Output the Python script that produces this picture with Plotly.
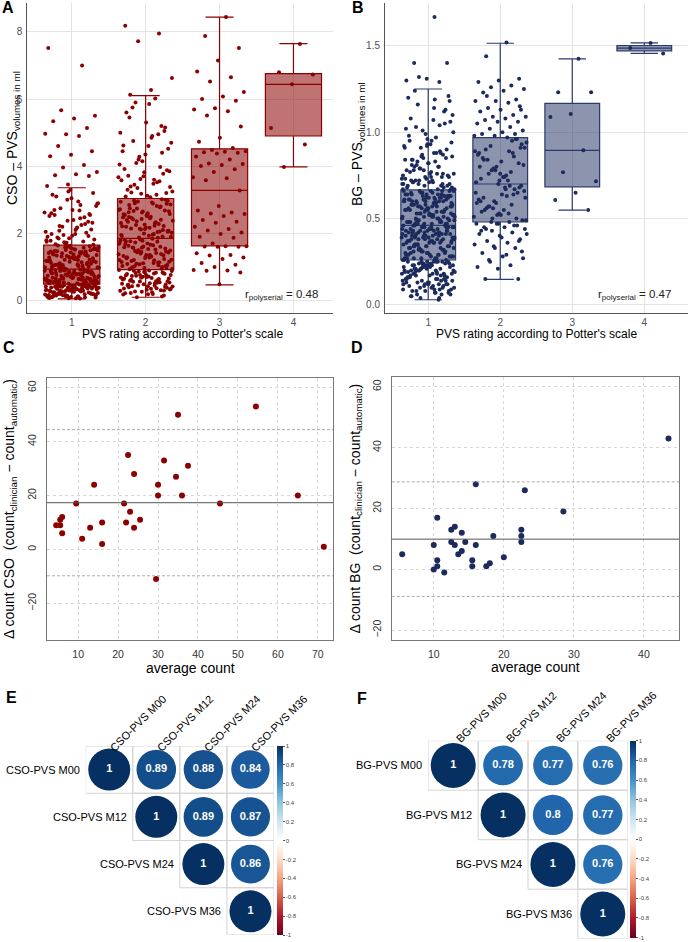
import numpy as np
import plotly.graph_objects as go

W, H = 689, 942
FONT = "Liberation Sans, Arial, sans-serif"


def px(x):
    return x / W


def py(y):
    return 1 - y / H


# ---------------- data: panel A (CSO volumes by Potter rating) ----------------
categories = [1, 2, 3, 4]
cat_labels = ["1", "2", "3", "4"]

cso_g1 = [0.12, 0.35, 0.21, 0.44, 0.08, 0.29, 0.41, 0.17, 0.38, 0.25, 0.47, 0.14, 0.32, 0.06, 0.43, 0.19, 0.27, 0.39, 0.10, 0.46,
          0.23, 0.34, 0.15, 0.42, 0.30, 0.09, 0.37, 0.20, 0.45, 0.26, 0.13, 0.40, 0.31, 0.18, 0.48, 0.22, 0.36, 0.11, 0.28, 0.44,
          0.16, 0.33, 0.07, 0.41, 0.24, 0.39, 0.14, 0.47, 0.30, 0.19, 0.35, 0.10, 0.43, 0.26, 0.38, 0.12, 0.46, 0.21, 0.33, 0.17,
          0.40, 0.28, 0.09, 0.45, 0.23, 0.36, 0.15, 0.42, 0.31, 0.20,
          0.52, 0.71, 0.88, 0.60, 0.93, 0.55, 0.79, 0.66, 0.84, 0.50, 0.74, 0.62, 0.91, 0.57, 0.82, 0.68, 0.53, 0.77, 0.89, 0.64,
          0.58, 0.85, 0.72, 0.51, 0.94, 0.69, 0.61, 0.80, 0.56, 0.87, 0.75, 0.63, 0.92, 0.54, 0.78, 0.67, 0.83, 0.59, 0.90, 0.70,
          0.52, 0.76, 0.65, 0.86, 0.57, 0.81, 0.73, 0.60, 0.89, 0.55, 0.68, 0.93, 0.62, 0.79, 0.50, 0.84, 0.71, 0.58, 0.87, 0.66,
          0.53, 0.77, 0.91, 0.64, 0.82, 0.56, 0.74, 0.88, 0.61, 0.69,
          1.02, 1.35, 1.58, 0.98, 1.21, 1.47, 1.10, 1.63, 1.28, 0.96, 1.41, 1.15, 1.52, 1.05, 1.33, 1.60, 1.19, 1.44, 1.00, 1.26,
          1.55, 1.12, 1.38, 0.97, 1.49, 1.23, 1.07, 1.62, 1.30, 1.17, 1.45, 1.03, 1.56, 1.25, 1.39, 1.09, 1.51, 0.99, 1.32, 1.64,
          1.14, 1.43, 1.20, 1.57, 1.06, 1.36, 1.27, 1.48, 1.01, 1.61, 1.18, 1.40, 1.11, 1.53, 1.29, 0.95, 1.46, 1.22, 1.59, 1.08,
          1.34, 1.50, 1.16, 1.42, 1.04, 1.31, 1.54, 1.24, 1.37, 1.13,
          1.72, 2.05, 2.68, 1.85, 2.32, 3.05, 1.78, 2.48, 1.95, 2.88, 2.15, 1.68, 2.58, 3.25, 1.90, 2.25, 2.75, 1.82, 2.40, 3.15,
          2.02, 1.70, 2.62, 2.95, 1.88, 2.12, 3.30, 2.52, 1.76, 2.20, 2.82, 1.98, 2.70, 2.35, 3.00, 1.80, 2.45, 2.08, 3.20, 1.93,
          2.60, 2.28, 1.74, 2.90, 2.18, 3.10, 2.55, 1.86,
          7.52, 7.00, 5.67, 5.50, 5.42, 5.34, 5.14, 4.95, 4.97, 4.90, 4.60, 4.45, 4.34, 4.30, 4.04, 3.96, 3.83, 3.76, 3.73, 3.71,
          3.46, 3.41,
          0.27, 0.62, 1.18, 0.44, 0.81, 1.41, 0.16, 0.73, 1.05, 0.36, 0.58, 1.27, 0.11, 0.69, 0.92, 0.48, 1.52, 0.22, 0.86, 1.33,
          0.31, 0.64, 1.09, 0.40, 0.77, 1.46, 0.19, 0.55, 0.99, 0.34, 0.83, 1.22, 0.07, 0.60, 1.14, 0.42, 0.71, 1.37, 0.25, 0.90,
          0.13, 0.66, 1.02, 0.47, 0.79, 1.58, 0.29, 0.52, 0.96, 0.38, 2.10, 2.55, 1.92, 2.38, 1.75, 2.85, 2.22, 1.66, 2.70, 1.98]

cso_g2 = [0.25, 0.62, 0.41, 0.85, 0.18, 0.53, 0.74, 0.33, 0.90, 0.47, 0.12, 0.68, 0.29, 0.81, 0.56, 0.38, 0.77, 0.22, 0.64, 0.45,
          0.88, 0.35, 0.59, 0.15, 0.71, 0.50, 0.83, 0.27, 0.66, 0.43, 0.79, 0.31, 0.57, 0.91, 0.20, 0.73, 0.48, 0.86, 0.36, 0.61,
          0.10, 0.76, 0.52, 0.40, 0.84, 0.26, 0.69, 0.44, 0.89, 0.58, 0.32, 0.75, 0.55, 0.87, 0.42, 0.67, 0.23, 0.80, 0.49, 0.63,
          0.37, 0.82, 0.54, 0.72, 0.46,
          0.95, 1.40, 1.72, 1.12, 1.58, 0.98, 1.30, 1.81, 1.05, 1.47, 1.22, 1.66, 0.93, 1.35, 1.78, 1.15, 1.52, 1.02, 1.43, 1.70,
          1.26, 1.60, 1.08, 1.38, 1.84, 1.18, 1.55, 0.97, 1.33, 1.75, 1.10, 1.49, 1.28, 1.63, 1.00, 1.45, 1.80, 1.20, 1.57, 1.06,
          1.36, 1.68, 1.14, 1.50, 0.94, 1.31, 1.77, 1.24, 1.61, 1.03, 1.42, 1.73, 1.16, 1.54, 1.09, 1.39, 1.82, 1.21, 1.65, 0.99,
          1.46, 1.27, 1.59, 1.13, 1.44,
          1.90, 2.45, 2.85, 2.10, 2.62, 1.95, 2.30, 2.98, 2.05, 2.52, 2.20, 2.78, 1.88, 2.38, 2.92, 2.15, 2.68, 2.00, 2.48, 2.82,
          2.25, 2.58, 1.93, 2.35, 3.02, 2.12, 2.72, 1.98, 2.42, 2.88, 2.18, 2.55, 2.28, 2.95, 2.02, 2.50, 2.75, 2.22, 2.65, 1.92,
          2.33, 2.90, 2.08, 2.60, 2.40, 2.80, 2.14, 2.70, 1.96, 2.46, 3.00, 2.26, 2.57, 2.04, 2.36, 2.86, 2.17, 2.63, 1.91, 2.43,
          2.94, 2.23, 2.67, 2.07, 2.53,
          3.10, 3.55, 4.20, 3.25, 4.85, 3.40, 5.05, 3.70, 4.45, 3.15, 5.90, 3.85, 4.60, 3.30, 5.20, 3.62, 4.05, 3.48, 5.75, 3.20,
          4.35, 3.92, 4.95, 3.35, 4.70, 3.08, 5.45, 3.78, 4.15, 3.58, 6.02, 3.45, 4.52, 3.12, 5.60, 3.98, 4.28, 3.67, 4.90, 3.22,
          5.15, 3.82, 4.62, 3.52, 4.10, 3.38, 5.85, 3.72, 4.40, 3.18, 5.00, 3.60, 4.75, 3.88, 5.30,
          8.18, 7.95, 7.72, 6.63, 6.27, 6.13,
          0.30, 1.11, 2.21, 0.58, 1.48, 2.66, 0.19, 1.29, 2.41, 0.76, 1.69, 2.89, 0.43, 1.04, 2.13, 0.65, 1.87, 2.74, 0.35, 1.36,
          2.49, 0.83, 1.57, 2.31, 0.51, 1.21, 2.97, 0.70, 1.76, 2.06]

cso_g3 = [8.44, 7.88, 7.52, 7.15, 6.82, 6.65, 6.52, 6.21, 6.08, 6.00, 5.95, 5.73, 5.69, 5.64, 5.51, 5.18, 4.85, 4.73, 4.54,
          4.48, 4.45, 4.43, 4.42, 4.40, 4.38, 4.29, 4.20, 4.08, 4.07, 4.04, 4.01, 3.91, 3.83, 3.67, 3.64, 3.58, 3.28, 2.82,
          2.68, 2.62, 2.59, 2.58, 2.52, 2.40, 2.35, 2.32, 2.20, 2.13, 2.09, 2.03, 1.98, 1.90, 1.87, 1.70, 1.62, 1.62, 1.61,
          1.60, 1.60, 1.41, 1.36, 1.34, 1.28, 1.24, 1.12, 1.07, 1.00, 0.91, 0.90, 0.89, 0.84, 0.49]

cso_g4 = [7.64, 6.80, 6.73, 6.44, 5.14, 4.65, 3.98]

cso_q1 = [0.49, 0.92, 1.63, 4.90]
cso_med = [0.94, 1.85, 3.28, 6.44]
cso_q3 = [1.65, 3.04, 4.52, 6.76]
cso_lo = [0.05, 0.10, 0.47, 3.98]
cso_hi = [3.36, 6.10, 8.44, 7.65]
r_cso = 0.48

# ---------------- data: panel B (BG volumes by Potter rating) ----------------
bg_g1 = [1.667, 1.40, 1.40, 1.31, 1.30, 1.29, 1.32,
         0.68, 0.95, 0.72, 1.12, 0.78, 0.70, 0.88, 1.03, 0.74, 0.82, 1.20, 0.69, 0.91, 0.76, 1.07, 0.71, 0.85, 0.99, 0.73,
         0.80, 1.16, 0.67, 0.93, 0.77, 0.87, 1.01, 0.70, 0.83, 1.24, 0.75, 0.96, 0.68, 0.89, 0.79, 1.10, 0.72, 0.84, 1.05,
         0.69, 0.92, 0.76, 0.81, 1.18, 0.71, 0.98, 0.74, 0.86, 0.67, 1.14, 0.78, 0.90, 0.73, 1.02, 0.80, 0.70, 0.94, 0.77,
         1.08, 0.68, 0.85, 0.75, 0.97, 0.72, 1.21, 0.82, 0.69, 0.88, 0.79, 1.00, 0.71, 0.84, 1.13, 0.74, 0.91, 0.67, 0.83,
         1.06, 0.76, 0.95, 0.70, 0.87, 0.73, 1.19, 0.80, 0.69, 0.92, 0.78, 1.04, 0.72, 0.86,
         0.47, 0.58, 0.63, 0.51, 0.66, 0.54, 0.60, 0.49, 0.62, 0.56, 0.48, 0.65, 0.52, 0.59, 0.46, 0.61, 0.55, 0.64, 0.50,
         0.57, 0.53, 0.66, 0.48, 0.60, 0.63, 0.51, 0.58, 0.47, 0.62, 0.55, 0.64, 0.49, 0.57, 0.52, 0.65, 0.60, 0.46, 0.54,
         0.61, 0.50, 0.59, 0.63, 0.53, 0.48, 0.66, 0.56, 0.51, 0.62, 0.58, 0.47, 0.64, 0.55, 0.60, 0.49, 0.57, 0.52, 0.65,
         0.54, 0.61, 0.46, 0.59, 0.50, 0.63, 0.56, 0.48, 0.62, 0.53, 0.66, 0.51, 0.58, 0.47, 0.60, 0.55, 0.64, 0.49, 0.57,
         0.52, 0.61, 0.54, 0.65, 0.50, 0.59, 0.46, 0.63, 0.56, 0.48, 0.62, 0.53, 0.58, 0.51, 0.64, 0.55, 0.47, 0.60, 0.57,
         0.49, 0.66, 0.52, 0.61, 0.54,
         0.27, 0.38, 0.43, 0.31, 0.45, 0.34, 0.40, 0.29, 0.42, 0.36, 0.28, 0.44, 0.32, 0.39, 0.26, 0.41, 0.35, 0.45, 0.30,
         0.37, 0.33, 0.43, 0.28, 0.40, 0.42, 0.31, 0.38, 0.27, 0.44, 0.35, 0.41, 0.29, 0.37, 0.32, 0.45, 0.39, 0.26, 0.34,
         0.43, 0.30, 0.36, 0.42, 0.33, 0.28, 0.44, 0.38, 0.31, 0.40, 0.35, 0.27, 0.41, 0.34, 0.39, 0.29, 0.37, 0.32, 0.45,
         0.36, 0.43, 0.26, 0.40, 0.30, 0.42, 0.35, 0.28, 0.44, 0.33, 0.38, 0.31, 0.41, 0.27, 0.39, 0.34, 0.43, 0.29, 0.36,
         0.32, 0.45, 0.37, 0.40, 0.30, 0.42, 0.26, 0.38, 0.35, 0.28, 0.44, 0.33, 0.41, 0.31, 0.39, 0.36, 0.27, 0.43, 0.34,
         0.29, 0.40, 0.32, 0.37, 0.45,
         0.05, 0.18, 0.24, 0.09, 0.15, 0.21, 0.07, 0.12, 0.25, 0.17, 0.04, 0.20, 0.11, 0.23, 0.14, 0.08, 0.19, 0.25, 0.13,
         0.06, 0.22, 0.16, 0.10, 0.24, 0.18, 0.07, 0.21, 0.12, 0.25, 0.15, 0.09, 0.20, 0.14, 0.23, 0.05, 0.17, 0.11, 0.22,
         0.19, 0.08, 0.24, 0.13, 0.16, 0.06, 0.21, 0.10, 0.25, 0.18, 0.12, 0.23, 0.15, 0.03, 0.20, 0.09, 0.24, 0.17, 0.11,
         0.22, 0.14, 0.07, 0.19, 0.25, 0.13, 0.16, 0.21, 0.10, 0.23, 0.18, 0.08, 0.24, 0.12, 0.20, 0.15, 0.06, 0.22, 0.17,
         0.11, 0.25, 0.14, 0.19, 0.09, 0.23, 0.16, 0.21, 0.13, 0.04, 0.24, 0.18, 0.10, 0.20, 0.15, 0.22, 0.12, 0.25, 0.17,
         0.08, 0.23, 0.19, 0.14, 0.21,
         0.33, 0.52, 0.71, 0.41, 0.58, 0.84, 0.29, 0.47, 0.63, 0.37, 0.55, 0.76, 0.22, 0.44, 0.61, 0.35, 0.50, 0.93, 0.27,
         0.48, 0.66, 0.39, 0.57, 0.81, 0.31, 0.45, 0.60, 0.18, 0.53, 0.70, 0.36, 0.42, 0.64, 0.25, 0.49, 0.88, 0.34, 0.56,
         0.62, 0.43, 0.12, 0.38, 0.59, 0.74, 0.30, 0.51, 0.46, 0.67, 0.20, 0.40]

bg_g2 = [1.52, 1.44, 1.31, 1.30, 1.29, 1.27, 1.26, 1.25, 1.24, 1.23, 1.19, 1.18, 1.18, 1.17, 1.14, 1.13, 1.13, 1.12, 1.10,
         1.09, 1.09, 1.08, 1.07, 1.06, 1.06, 1.05, 1.03, 1.02, 1.01, 1.00, 0.99, 0.99, 0.98, 0.98, 0.97, 1.21, 1.15,
         0.72, 0.88, 0.95, 0.78, 0.91, 0.74, 0.84, 0.96, 0.80, 0.71, 0.89, 0.76, 0.93, 0.83, 0.73, 0.86, 0.79, 0.94, 0.75,
         0.90, 0.82, 0.70, 0.87, 0.77, 0.92, 0.81, 0.74, 0.85, 0.96, 0.78, 0.89, 0.72, 0.84, 0.91, 0.76, 0.80, 0.88,
         0.50, 0.62, 0.68, 0.55, 0.65, 0.52, 0.59, 0.69, 0.57, 0.49, 0.64, 0.54, 0.67, 0.60, 0.51, 0.63, 0.56, 0.68, 0.53,
         0.61, 0.58, 0.48, 0.66, 0.55, 0.62, 0.50, 0.59, 0.65, 0.53, 0.57, 0.69, 0.52, 0.60, 0.64, 0.56, 0.49, 0.67,
         0.15, 0.15, 0.21, 0.22, 0.23, 0.25, 0.27, 0.28, 0.30, 0.33, 0.33, 0.35, 0.36, 0.37, 0.38, 0.40, 0.41, 0.42, 0.43,
         0.44, 0.45, 0.45, 0.46, 0.47, 0.47, 0.48, 0.26, 0.31, 0.39, 0.43, 0.46, 0.34, 0.41, 0.29, 0.44, 0.37, 0.47]

bg_g3 = [1.425, 1.232, 1.232, 1.105, 1.088, 0.895, 0.768, 0.716, 0.649, 0.607, 0.549]
bg_g4 = [1.517, 1.487, 1.456]

bg_q1 = [0.26, 0.48, 0.684, 1.471]
bg_med = [0.46, 0.70, 0.895, 1.487]
bg_q3 = [0.666, 0.969, 1.167, 1.502]
bg_lo = [0.03, 0.148, 0.549, 1.456]
bg_hi = [1.25, 1.515, 1.425, 1.517]
r_bg = 0.47

# ---------------- data: panels C/D (Bland-Altman) ----------------
cso_avg = [4.5, 5.5, 5.5, 6, 6, 9.5, 11, 13, 14, 16, 16, 21.5, 22, 22.5, 23, 24, 24, 25.5, 29.5, 30, 30, 31.5,
           34.5, 35, 36, 37.5, 45.5, 54.5, 65, 71.5]
cso_diff = [9, 9, 11, 12, 6, 17, 4, 8, 24, 10, 2, 17, 10, 35, 14, 28, 8, 11, -11, 24, 20, 33,
            27, 50, 20, 31, 17, 53, 20, 1]
bg_avg = [5.5, 10, 10, 10.5, 10.5, 10.5, 11.5, 12.5, 12.5, 13, 13, 13.5, 14, 14, 14.5, 15.5, 15.5, 16, 16, 17.5,
          18, 18.5, 20, 22.5, 22.5, 22.5, 23, 28.5, 43.5]
bg_diff = [5, 8, 0, 17, 3, 1, -1, 13, 9, 14, 8, 5, 12, 6, 9, 3, 1, 28, 8, 1,
           2, 11, 4, 13, 11, 9, 26, 19, 43]

# ---------------- data: panels E/F (correlation matrices) ----------------
cso_labels = ["CSO-PVS M00", "CSO-PVS M12", "CSO-PVS M24", "CSO-PVS M36"]
cso_corr = [[1, 0.89, 0.88, 0.84],
            [0.89, 1, 0.89, 0.87],
            [0.88, 0.89, 1, 0.86],
            [0.84, 0.87, 0.86, 1]]
bg_labels = ["BG-PVS M00", "BG-PVS M12", "BG-PVS M24", "BG-PVS M36"]
bg_corr = [[1, 0.78, 0.77, 0.76],
           [0.78, 1, 0.8, 0.77],
           [0.77, 0.8, 1, 0.76],
           [0.76, 0.77, 0.76, 1]]
cbar_ticks = [-1, -0.8, -0.6, -0.4, -0.2, 0, 0.2, 0.4, 0.6, 0.8, 1]

# ---------------- styles ----------------
RED = "#8B0000"
NAVY = "#1C2A5C"
GRID = "#E4E4E4"
AXC = "#555555"
RDBU = ["#67001F", "#B2182B", "#D6604D", "#F4A582", "#FDDBC7", "#FFFFFF",
        "#D1E5F0", "#92C5DE", "#4393C3", "#2166AC", "#053061"]
colorscale = [[i / 10, c] for i, c in enumerate(RDBU)]

GOLD = 0.6180339887


def jitter(cat, n, half=0.37):
    return [cat + ((((k + 1) * GOLD) % 1.0) - 0.5) * 2 * half for k in range(n)]


fig = go.Figure()

# ---- A ----
for cat, vals in zip(categories, [cso_g1, cso_g2, cso_g3, cso_g4]):
    fig.add_trace(go.Scatter(x=jitter(cat, len(vals)), y=vals, mode="markers",
                             marker=dict(color=RED, size=4, opacity=1, line=dict(width=0)),
                             xaxis="x", yaxis="y", hoverinfo="skip"))
fig.add_trace(go.Box(x=categories, q1=cso_q1, median=cso_med, q3=cso_q3, lowerfence=cso_lo, upperfence=cso_hi,
                     width=0.76, fillcolor="rgba(139,0,0,0.55)", line=dict(color=RED, width=1.2),
                     boxpoints=False, xaxis="x", yaxis="y"))

# ---- B ----
for cat, vals in zip(categories, [bg_g1, bg_g2, bg_g3, bg_g4]):
    fig.add_trace(go.Scatter(x=jitter(cat, len(vals)), y=vals, mode="markers",
                             marker=dict(color=NAVY, size=4, opacity=1, line=dict(width=0)),
                             xaxis="x2", yaxis="y2", hoverinfo="skip"))
fig.add_trace(go.Box(x=categories, q1=bg_q1, median=bg_med, q3=bg_q3, lowerfence=bg_lo, upperfence=bg_hi,
                     width=0.76, fillcolor="rgba(28,42,92,0.5)", line=dict(color="#2A3A6E", width=1.2),
                     boxpoints=False, xaxis="x2", yaxis="y2"))

# ---- C / D ----
shapes = []
for avg, diff, col, xa, ya in [(cso_avg, cso_diff, RED, "x3", "y3"), (bg_avg, bg_diff, NAVY, "x4", "y4")]:
    fig.add_trace(go.Scatter(x=avg, y=diff, mode="markers",
                             marker=dict(color=col, size=6, opacity=1, line=dict(width=0)),
                             xaxis=xa, yaxis=ya, hoverinfo="skip"))
    d = np.array(diff, dtype=float)
    m = d.mean()
    s = d.std(ddof=1)
    shapes.append(dict(type="line", xref=xa + " domain", yref=ya, x0=0, x1=1, y0=m, y1=m,
                       line=dict(color="#555555", width=1)))
    for lim in (m - 1.96 * s, m + 1.96 * s):
        shapes.append(dict(type="line", xref=xa + " domain", yref=ya, x0=0, x1=1, y0=lim, y1=lim,
                           line=dict(color="#AAAAAA", width=1, dash="3px,2px")))

# ---- E / F ----
annotations = []
for corr, labels, xa, ya, dia, cbx, cby0, cby1, xs, ys in [
        (cso_corr, cso_labels, "x5", "y5", 42, 276.7, 746, 935, 29, 23),
        (bg_corr, bg_labels, "x6", "y6", 45, 630, 740.7, 937.5, 28, 24)]:
    n = len(labels)
    xs_, ys_, vs_, txt = [], [], [], []
    for i in range(n):
        for j in range(i, n):
            shapes.append(dict(type="rect", xref=xa, yref=ya, x0=j + 0.5, x1=j + 1.5, y0=i + 0.5, y1=i + 1.5,
                               line=dict(color="#D4D4D4", width=1), layer="below"))
            xs_.append(j + 1)
            ys_.append(i + 1)
            vs_.append(corr[i][j])
            txt.append("<b>%g</b>" % corr[i][j])
    fig.add_trace(go.Scatter(
        x=xs_, y=ys_, mode="markers+text", text=txt, textposition="middle center",
        textfont=dict(color="white", size=11, family=FONT),
        marker=dict(size=[dia * np.sqrt(abs(v)) for v in vs_], color=vs_, colorscale=colorscale, opacity=1,
                    cmin=-1, cmax=1, line=dict(width=0), showscale=True,
                    colorbar=dict(x=px(cbx), xanchor="left", y=(py(cby0) + py(cby1)) / 2, yanchor="middle",
                                  len=(cby1 - cby0) / H, lenmode="fraction", thickness=6, thicknessmode="pixels",
                                  xpad=0, ypad=0, outlinewidth=0, tickvals=cbar_ticks,
                                  ticktext=["%g" % t for t in cbar_ticks], ticks="outside", ticklen=2,
                                  tickcolor="#555", tickfont=dict(size=6, color="#444"))),
        xaxis=xa, yaxis=ya, hoverinfo="skip"))
    for i, lab in enumerate(labels):
        annotations.append(dict(xref=xa, yref=ya, x=i + 0.5, y=i + 1, text=lab, showarrow=False,
                                xanchor="right", yanchor="middle", xshift=-4,
                                font=dict(size=11, color="black", family=FONT)))
        annotations.append(dict(xref=xa, yref=ya, x=i + 1, y=0.5, text=lab, showarrow=False,
                                textangle=-45, xanchor="center", yanchor="middle", xshift=xs, yshift=ys,
                                font=dict(size=11, color="black", family=FONT)))


# ---- text annotations ----
def ann(x, y, text, size, angle=0, xanchor="center", bold=False, color="black"):
    annotations.append(dict(xref="paper", yref="paper", x=px(x), y=py(y), text=("<b>%s</b>" % text) if bold else text,
                            showarrow=False, textangle=angle, xanchor=xanchor, yanchor="middle",
                            font=dict(size=size, color=color, family=FONT)))


ann(7.5, 8, "A", 16, bold=True)
ann(357.5, 8, "B", 16, bold=True)
ann(9, 348, "C", 16, bold=True)
ann(357, 348, "D", 16, bold=True)
ann(11.5, 697, "E", 16, bold=True)
ann(362, 698, "F", 16, bold=True)

ann(13, 138, "CSO – PVS<sub>volumes in ml</sub>", 14, angle=-90)
ann(358, 144, "BG – PVS<sub>volumes in ml</sub>", 14, angle=-90)
ann(182.6, 334, "PVS rating according to Potter's scale", 12)
ann(536.3, 334, "PVS rating according to Potter's scale", 12)
ann(320, 295, "r<sub>polyserial</sub> = %.2f" % r_cso, 11.5, xanchor="right", color="#222")
ann(673, 295, "r<sub>polyserial</sub> = %.2f" % r_bg, 11.5, xanchor="right", color="#222")

ann(10, 509, "Δ count CSO\u00a0\u00a0(count<sub>clinician</sub> − count<sub>automatic</sub>)", 14, angle=-90)
ann(355, 508.5, "Δ count BG\u00a0\u00a0(count<sub>clinician</sub> − count<sub>automatic</sub>)", 14, angle=-90)
ann(190, 668, "average count", 14)
ann(535.4, 667, "average count", 14)


# ---- axes ----
def box_x(dom, rng):
    return dict(domain=dom, range=rng, tickvals=categories, ticktext=cat_labels, showgrid=True, gridcolor=GRID,
                gridwidth=1, showline=True, linecolor=AXC, linewidth=1, ticks="", zeroline=False,
                automargin=False, tickfont=dict(size=10, color="#4D4D4D"), fixedrange=True)


def box_y(dom, rng, tv, tt):
    return dict(domain=dom, range=rng, tickvals=tv, ticktext=tt, showgrid=True, gridcolor=GRID, gridwidth=1,
                showline=True, linecolor=AXC, linewidth=1, ticks="", zeroline=False, ticklabelstandoff=2,
                automargin=False, tickfont=dict(size=10, color="#4D4D4D"), fixedrange=True)


def ba_x(dom, rng, tv):
    return dict(domain=dom, range=rng, tickvals=tv, showgrid=True, gridcolor="#D8D8D8", griddash="dot",
                showline=True, mirror=True, linecolor="#777777", linewidth=1, ticks="", zeroline=False,
                automargin=False, ticklabelstandoff=4, tickfont=dict(size=10.5, color="#333"), fixedrange=True)


def ba_y(dom, rng, tv):
    return dict(domain=dom, range=rng, tickvals=tv, showgrid=True, gridcolor="#D8D8D8", griddash="dot",
                showline=True, mirror=True, linecolor="#777777", linewidth=1, ticks="", zeroline=False,
                automargin=False, tickangle=-90, ticklabelstandoff=6, tickfont=dict(size=10.5, color="#333"),
                fixedrange=True)


def hid(dom, rng):
    return dict(domain=dom, range=rng, visible=False, automargin=False, fixedrange=True)


fig.update_layout(
    template="none",
    width=W, height=H, margin=dict(l=0, r=0, t=0, b=0, pad=0), autosize=False,
    paper_bgcolor="white", plot_bgcolor="white", showlegend=False, hovermode=False,
    font=dict(family=FONT, size=11, color="#222"),
    xaxis=dict(box_x([px(27.4), px(333)], [0.4, 4.535]), anchor="y"),
    yaxis=dict(box_y([py(312.7), py(3)], [-0.36, 8.86], [0, 2, 4, 6, 8], ["0", "2", "4", "6", "8"]), anchor="x"),
    xaxis2=dict(box_x([px(385), px(687.5)], [0.4, 4.6]), anchor="y2"),
    yaxis2=dict(box_y([py(312.7), py(3)], [-0.045, 1.748], [0, 0.5, 1.0, 1.5], ["0.0", "0.5", "1.0", "1.5"]),
                anchor="x2"),
    xaxis3=dict(ba_x([px(47), px(333)], [2.2, 73.8], [10, 20, 30, 40, 50, 60, 70]), anchor="y3"),
    yaxis3=dict(ba_y([py(640), py(378)], [-33.6, 63.6], [-20, 0, 20, 40, 60]), anchor="x3"),
    xaxis4=dict(ba_x([px(391.7), px(679)], [4.0, 45.0], [10, 20, 30, 40]), anchor="y4"),
    yaxis4=dict(ba_y([py(640), py(377)], [-23.2, 63.2], [-20, 0, 20, 40, 60]), anchor="x4"),
    xaxis5=dict(hid([px(85.7), px(274)], [0.5, 4.5]), anchor="y5"),
    yaxis5=dict(hid([py(935), py(746)], [4.5, 0.5]), anchor="x5"),
    xaxis6=dict(hid([px(428.3), px(627.7)], [0.5, 4.5]), anchor="y6"),
    yaxis6=dict(hid([py(938.7), py(740.7)], [4.5, 0.5]), anchor="x6"),
    shapes=shapes,
    annotations=annotations,
)

fig.write_html("out.html", config={"displayModeBar": False, "staticPlot": True},
               post_script="document.body.style.margin='0px';document.body.style.overflow='hidden';")
